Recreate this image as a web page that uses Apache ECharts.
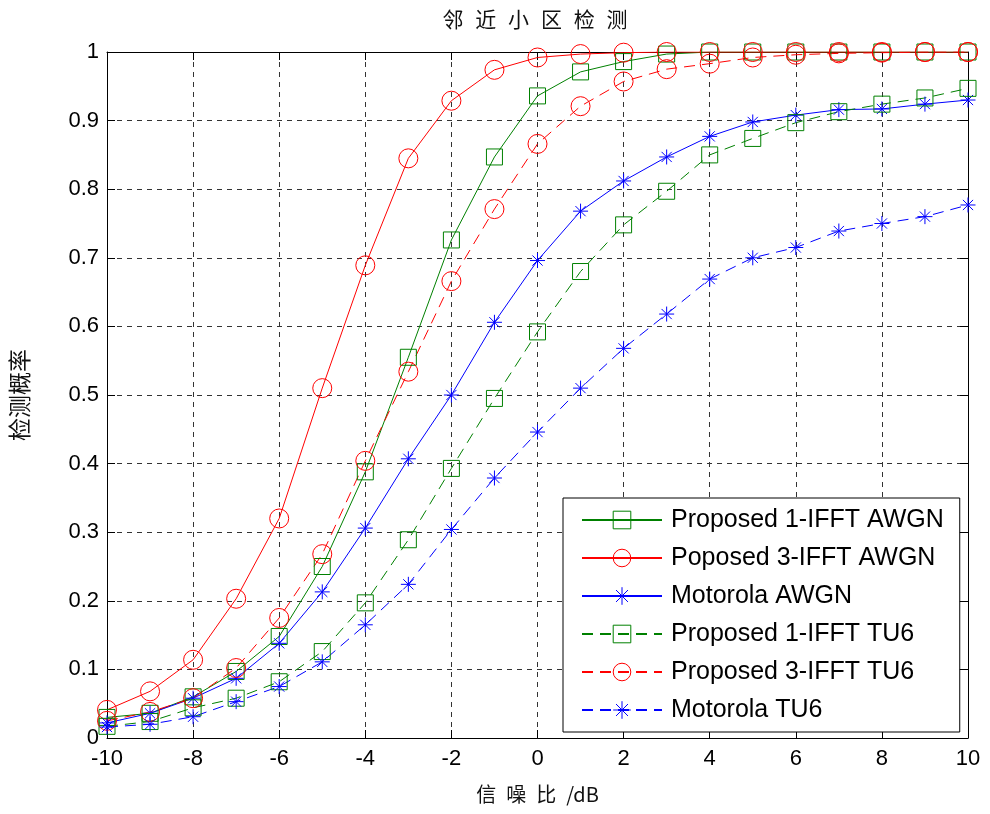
<!DOCTYPE html>
<html>
<head>
<meta charset="utf-8">
<script src="https://cdn.jsdelivr.net/npm/echarts@6/dist/echarts.min.js"></script>
<style>
html,body{margin:0;padding:0;background:#fff;}
#c{width:990px;height:814px;}
</style>
</head>
<body>
<div id="c"></div>
<script>
const snr = [-10,-9,-8,-7,-6,-5,-4,-3,-2,-1,0,1,2,3,4,5,6,7,8,9,10];
const p1Awgn = [0.030,0.036,0.060,0.097,0.148,0.250,0.388,0.555,0.726,0.847,0.936,0.971,0.986,0.997,1,1,1,1,1,1,1];
const p3Awgn = [0.041,0.068,0.114,0.203,0.320,0.510,0.689,0.845,0.929,0.974,0.992,0.997,0.999,1,1,1,1,1,1,1,1];
const motoAwgn = [0.022,0.036,0.058,0.087,0.138,0.213,0.306,0.407,0.500,0.606,0.696,0.768,0.812,0.847,0.877,0.898,0.908,0.916,0.917,0.924,0.930];
const p1Tu6 = [0.017,0.024,0.044,0.058,0.082,0.126,0.197,0.289,0.393,0.495,0.592,0.680,0.748,0.797,0.850,0.874,0.897,0.913,0.924,0.933,0.947];
const p3Tu6 = [0.025,0.038,0.058,0.102,0.175,0.268,0.404,0.534,0.666,0.771,0.866,0.921,0.957,0.975,0.983,0.992,0.996,0.998,0.999,1,1];
const motoTu6 = [0.016,0.020,0.031,0.053,0.075,0.111,0.165,0.224,0.304,0.379,0.446,0.510,0.568,0.618,0.669,0.700,0.715,0.739,0.750,0.760,0.777];
const names = ['Proposed 1-IFFT AWGN','Poposed 3-IFFT AWGN','Motorola AWGN','Proposed 1-IFFT TU6','Proposed 3-IFFT TU6','Motorola TU6'];

const GREEN = '#008000', RED = '#ff0000', BLUE = '#0000ff';
const STAR = 'path://M0,5L10,5M5,0L5,10M1.6,1.6L8.4,8.4M8.4,1.6L1.6,8.4';

function pairs(ys){ return snr.map((x,i)=>[x, ys[i]]); }
function mk(name, ys, color, symbol, size, dashed){
  return {
    name: name, type: 'line', data: pairs(ys),
    symbol: symbol, symbolSize: size, showSymbol: true,
    lineStyle: {color: color, width: 1, type: dashed ? [11,7] : 'solid'},
    itemStyle: {color: 'rgba(0,0,0,0)', borderColor: color, borderWidth: 1},
    emphasis: {disabled: true},
    animation: false
  };
}

const chart = echarts.init(document.getElementById('c'), null, {renderer:'canvas'});
const font = 'Liberation Sans, Arial, sans-serif';
const cjk = 'Noto Sans CJK SC, sans-serif';
const axisCommon = {
  axisLine: {show: true, onZero: false, lineStyle: {color: '#000', width: 1}},
  axisTick: {show: true, inside: true, length: 8, lineStyle: {color: '#000'}},
};
chart.setOption({
  backgroundColor: '#fff',
  animation: false,
  title: {
    text: '邻\u2002\u200a近\u2002\u200a小\u2002\u200a区\u2002\u200a检\u2002\u200a测',
    left: 530, top: 4, textAlign: 'center',
    textStyle: {fontFamily: cjk, fontSize: 21, fontWeight: 'normal', color: '#111'}
  },
  grid: {left: 100, right: 22, top: 52, bottom: 76, containLabel: false},
  xAxis: [{
    type: 'value', min: -10, max: 10, interval: 2,
    name: '信\u2002噪\u2002比\u2002/dB', nameLocation: 'middle', nameGap: 46,
    nameTextStyle: {fontFamily: cjk, fontSize: 20, color: '#111'},
    axisLabel: {fontFamily: font, fontSize: 22, color: '#000', margin: 10},
    splitLine: {show: true, lineStyle: {color: '#333', type: [5,5], width: 1}},
    ...axisCommon
  },{
    type: 'value', min: -10, max: 10, interval: 2, position: 'top',
    axisLabel: {show: false}, splitLine: {show: false}, ...axisCommon
  }],
  yAxis: [{
    type: 'value', min: 0, max: 1, interval: 0.1,
    name: '检测概率', nameLocation: 'middle', nameGap: 76, nameRotate: 90,
    nameTextStyle: {fontFamily: cjk, fontSize: 23, color: '#111'},
    axisLabel: {fontFamily: font, fontSize: 22, color: '#000', margin: 8,
      formatter: v => (Math.round(v*10)/10).toString()},
    splitLine: {show: true, lineStyle: {color: '#333', type: [5,5], width: 1}},
    ...axisCommon
  },{
    type: 'value', min: 0, max: 1, interval: 0.1, position: 'right',
    axisLabel: {show: false}, splitLine: {show: false}, ...axisCommon
  }],
  legend: {
    orient: 'vertical', left: 563, top: 498,
    padding: [9, 16, 9, 18],
    itemWidth: 80, itemHeight: 22, itemGap: 12,
    backgroundColor: '#fff', borderColor: '#000', borderWidth: 1,
    itemStyle: {borderWidth: 1},
    textStyle: {fontFamily: font, fontSize: 25, color: '#000', lineHeight: 26, padding: [0,0,0,4]},
    data: names
  },
  series: [
    mk(names[0], p1Awgn, GREEN, 'rect', 16, false),
    mk(names[1], p3Awgn, RED, 'circle', 19, false),
    mk(names[2], motoAwgn, BLUE, STAR, 15, false),
    mk(names[3], p1Tu6, GREEN, 'rect', 16, true),
    mk(names[4], p3Tu6, RED, 'circle', 19, true),
    mk(names[5], motoTu6, BLUE, STAR, 15, true)
  ]
});
</script>
</body>
</html>
